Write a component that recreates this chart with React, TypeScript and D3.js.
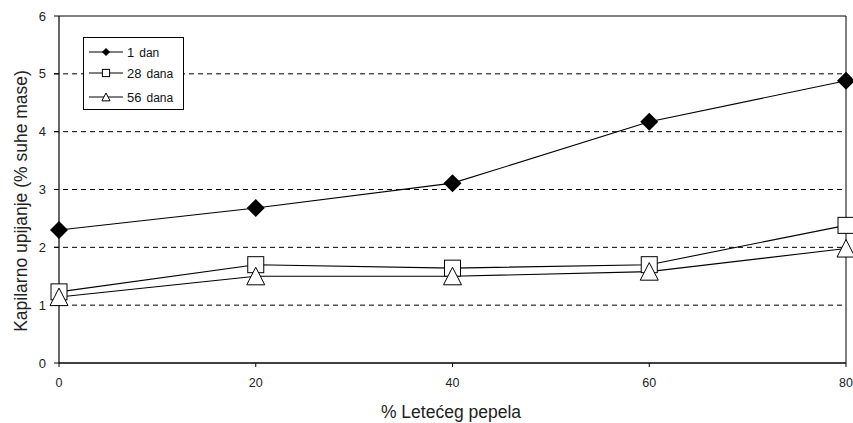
import React from "react";
import * as d3 from "d3";

const xValues = [0, 20, 40, 60, 80];
const series1 = [2.3, 2.68, 3.11, 4.17, 4.88];
const series28 = [1.23, 1.7, 1.64, 1.7, 2.38];
const series56 = [1.14, 1.5, 1.5, 1.58, 1.98];
const seriesNames = ["1", "28", "56"];
const seriesUnits = ["dan", "dana", "dana"];
const yTicks = [0, 1, 2, 3, 4, 5, 6];
const xTicks = [0, 20, 40, 60, 80];
const xTitle = "% Letećeg pepela";
const yTitle = "Kapilarno upijanje (% suhe mase)";

const W = 853;
const H = 423;
const M = { left: 59, right: 846, top: 16, bottom: 363 };
const FONT = "Liberation Sans, Arial, sans-serif";

function Marker({ kind, x, y, s = 1 }: { kind: number; x: number; y: number; s?: number }) {
  if (kind === 0) {
    const r = 9 * s;
    return (
      <path d={`M${x},${y - r}L${x + r},${y}L${x},${y + r}L${x - r},${y}Z`} fill="#000" />
    );
  }
  if (kind === 1) {
    const h = 8 * s;
    return <rect x={x - h} y={y - h} width={2 * h} height={2 * h} fill="#fff" stroke="#000" strokeWidth={1} />;
  }
  const h = 9 * s;
  return (
    <path
      d={`M${x},${y - h}L${x + h},${y + h * 0.95}L${x - h},${y + h * 0.95}Z`}
      fill="#fff"
      stroke="#000"
      strokeWidth={1}
    />
  );
}

export default function App() {
  const x = d3.scaleLinear().domain([0, 80]).range([M.left, M.right]);
  const y = d3.scaleLinear().domain([0, 6]).range([M.bottom, M.top]);
  const line = d3
    .line<number>()
    .x((_, i) => x(xValues[i]))
    .y((d) => y(d));
  const all = [series1, series28, series56];

  return (
    <svg width={W} height={H} style={{ position: "absolute", left: 0, top: 0 }} fontFamily={FONT}>
      <rect x={0} y={0} width={W} height={H} fill="#fff" />
      {yTicks
        .filter((t) => t > 0 && t < 6)
        .map((t) => (
          <line
            key={t}
            x1={M.left - 5}
            x2={M.right}
            y1={y(t)}
            y2={y(t)}
            stroke="#000"
            strokeWidth={1}
            strokeDasharray="5,4"
          />
        ))}
      <line x1={M.left} x2={M.right} y1={M.top} y2={M.top} stroke="#000" strokeWidth={1.2} />
      <line x1={M.right} x2={M.right} y1={M.top} y2={M.bottom} stroke="#000" strokeWidth={1} />
      <line x1={M.left} x2={M.left} y1={M.top} y2={M.bottom} stroke="#000" strokeWidth={1.2} />
      <line x1={M.left} x2={M.right} y1={M.bottom} y2={M.bottom} stroke="#000" strokeWidth={1.5} />
      {yTicks.map((t) => (
        <g key={t}>
          <line x1={M.left - 5} x2={M.left} y1={y(t)} y2={y(t)} stroke="#000" strokeWidth={1} />
          <text x={46} y={y(t)} dy="0.35em" textAnchor="end" fontSize={13} fill="#222">
            {t}
          </text>
        </g>
      ))}
      {xTicks.map((t) => (
        <g key={t}>
          <line x1={x(t)} x2={x(t)} y1={M.bottom} y2={M.bottom + 4} stroke="#000" strokeWidth={1} />
          <text x={x(t)} y={383} dy="0.35em" textAnchor="middle" fontSize={12.5} fill="#222">
            {t}
          </text>
        </g>
      ))}
      <text x={451} y={412} dy="0.35em" textAnchor="middle" fontSize={17.5} fill="#222">
        {xTitle}
      </text>
      <text
        transform={`translate(21,201) rotate(-90)`}
        textAnchor="middle"
        fontSize={17.5}
        dy="0.35em"
        fill="#222"
      >
        {yTitle}
      </text>
      {all.map((s, k) => (
        <path key={k} d={line(s) || ""} fill="none" stroke="#000" strokeWidth={1.1} />
      ))}
      {all.map((s, k) =>
        s.map((v, i) => <Marker key={`${k}-${i}`} kind={k} x={x(xValues[i])} y={y(v)} />)
      )}
      <rect x={83.5} y={37.5} width={100} height={72} fill="#fff" stroke="#000" strokeWidth={1} />
      {seriesNames.map((n, k) => {
        const ly = [52, 73, 97][k];
        return (
          <g key={n}>
            <line x1={89} x2={123} y1={ly} y2={ly} stroke="#000" strokeWidth={1} />
            <Marker kind={k} x={106} y={ly} s={0.45} />
            <text x={127} y={ly} dy="0.35em" fontSize={13} fill="#111">
              <tspan>{n}</tspan>
              <tspan dx={5} fontSize={12}>
                {seriesUnits[k]}
              </tspan>
            </text>
          </g>
        );
      })}
    </svg>
  );
}
